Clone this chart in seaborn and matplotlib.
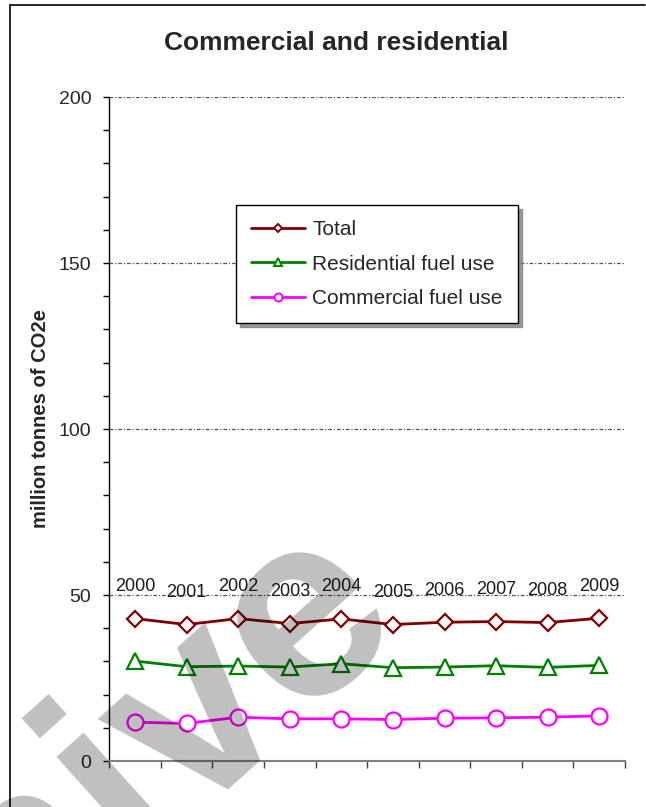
import numpy as np
import pandas as pd
import matplotlib
matplotlib.use("Agg")
import matplotlib.pyplot as plt
from matplotlib.lines import Line2D
import seaborn as sns

# Emissions by year, million tonnes of CO2e
years = ["2000", "2001", "2002", "2003", "2004", "2005", "2006", "2007", "2008", "2009"]
total = [42.9, 41.1, 42.9, 41.4, 42.8, 41.1, 41.8, 42.0, 41.7, 43.0]
residential = [30.1, 28.4, 28.6, 28.3, 29.3, 28.1, 28.3, 28.7, 28.2, 28.8]
commercial = [11.7, 11.3, 13.2, 12.7, 12.7, 12.5, 12.9, 13.0, 13.2, 13.6]

series_names = ["Total", "Residential fuel use", "Commercial fuel use"]
series_values = [total, residential, commercial]
series_colors = ["#800000", "#008000", "#FF00FF"]
series_markers = ["D", "^", "o"]
series_sizes = [8.4, 11.5, 11.5]

y_ticks = [0, 50, 100, 150, 200]
title = "Commercial and residential"
y_label = "million tonnes of CO2e"

sns.set_style("white")
plt.rcParams["font.family"] = ["Liberation Sans", "DejaVu Sans"]

W, H = 646, 807
fig = plt.figure(figsize=(W / 100, H / 100), dpi=100)
ax = fig.add_axes([109.3 / W, 1 - 761 / H, (625 - 109.3) / W, (761 - 97) / H])

x = np.arange(len(years))
frames = []
for name, vals in zip(series_names, series_values):
    frames.append(pd.DataFrame({"x": x, "value": vals, "series": name}))
df = pd.concat(frames, ignore_index=True)

for name, color, marker, ms in zip(series_names, series_colors, series_markers, series_sizes):
    sub = df[df["series"] == name]
    sns.lineplot(data=sub, x="x", y="value", ax=ax, color=color, lw=2.0,
                 marker=marker, markersize=ms, markerfacecolor="white",
                 markeredgecolor=color, markeredgewidth=1.6, legend=False,
                 zorder=3)

# Year labels above the total line
for xi, yr, v in zip(x, years, total):
    ax.annotate(yr, (xi, v), xytext=(0, 23), textcoords="offset points",
                ha="center", va="center", fontsize=13, color="#1a1a1a",
                family=["Liberation Sans Narrow", "Liberation Sans"], zorder=4)

ax.set_xlim(-0.5, 9.5)
ax.set_ylim(0, 200)
ax.set_xticks(np.arange(-0.5, 10, 1.0))
ax.set_xticklabels([])
ax.set_yticks(y_ticks)
ax.set_yticklabels([str(t) for t in y_ticks], fontsize=14)
ax.set_yticks(np.arange(0, 201, 10), minor=True)
ax.tick_params(axis="y", which="major", direction="out", length=4, width=1,
               color="black", pad=9, left=True)
ax.tick_params(axis="y", which="minor", direction="out", length=4, width=1,
               color="black", left=True)
ax.tick_params(axis="x", which="major", direction="out", length=5, width=1,
               color="#404040", bottom=True)

for g in y_ticks[1:]:
    ax.axhline(g, color="#555555", lw=0.9, ls=(0, (3, 1.5, 1, 1.5)), zorder=1)

sns.despine(ax=ax, top=True, right=True)
ax.spines["left"].set_color("black")
ax.spines["left"].set_linewidth(1.0)
ax.spines["bottom"].set_color("#808080")
ax.spines["bottom"].set_linewidth(1.5)

ax.set_ylabel(y_label, fontsize=14.5, fontweight="bold", labelpad=0)
ax.yaxis.set_label_coords(-0.115, 0.515)
ax.set_xlabel("")

fig.text(336 / W, 1 - 43 / H, title, ha="center", va="center",
         fontsize=19, fontweight="bold")

handles = [Line2D([0], [0], color=c, lw=2.0, marker=m, markersize=s,
                  markerfacecolor="white", markeredgecolor=c, markeredgewidth=1.4)
           for c, m, s in zip(series_colors, series_markers, series_sizes)]
leg = ax.legend(handles, series_names, loc="upper left",
                bbox_to_anchor=((236 - 109.3) / 515.7, (761 - 205) / 664),
                borderaxespad=0, fontsize=15, frameon=True, fancybox=False,
                shadow={"ox": 3, "oy": -3, "color": "0.5", "alpha": 0.8},
                handlelength=2.6, handletextpad=0.35, labelspacing=0.75,
                borderpad=0.72, markerscale=0.5)
leg.get_frame().set_edgecolor("black")
leg.get_frame().set_linewidth(1.0)

# outer chart border
fig.add_artist(Line2D([10 / W, 10 / W], [0, 1 - 5 / H], transform=fig.transFigure,
                      color="black", lw=1.2))
fig.add_artist(Line2D([10 / W, 645 / W], [1 - 5 / H, 1 - 5 / H], transform=fig.transFigure,
                      color="black", lw=1.2))

# watermark
fig.text(408 / W, 1 - 622 / H, "Archive", rotation=42, rotation_mode="anchor",
         ha="right", va="baseline", fontsize=190, fontweight="bold",
         color="black", alpha=0.25, zorder=10)

fig.savefig("out.png", dpi=100)
